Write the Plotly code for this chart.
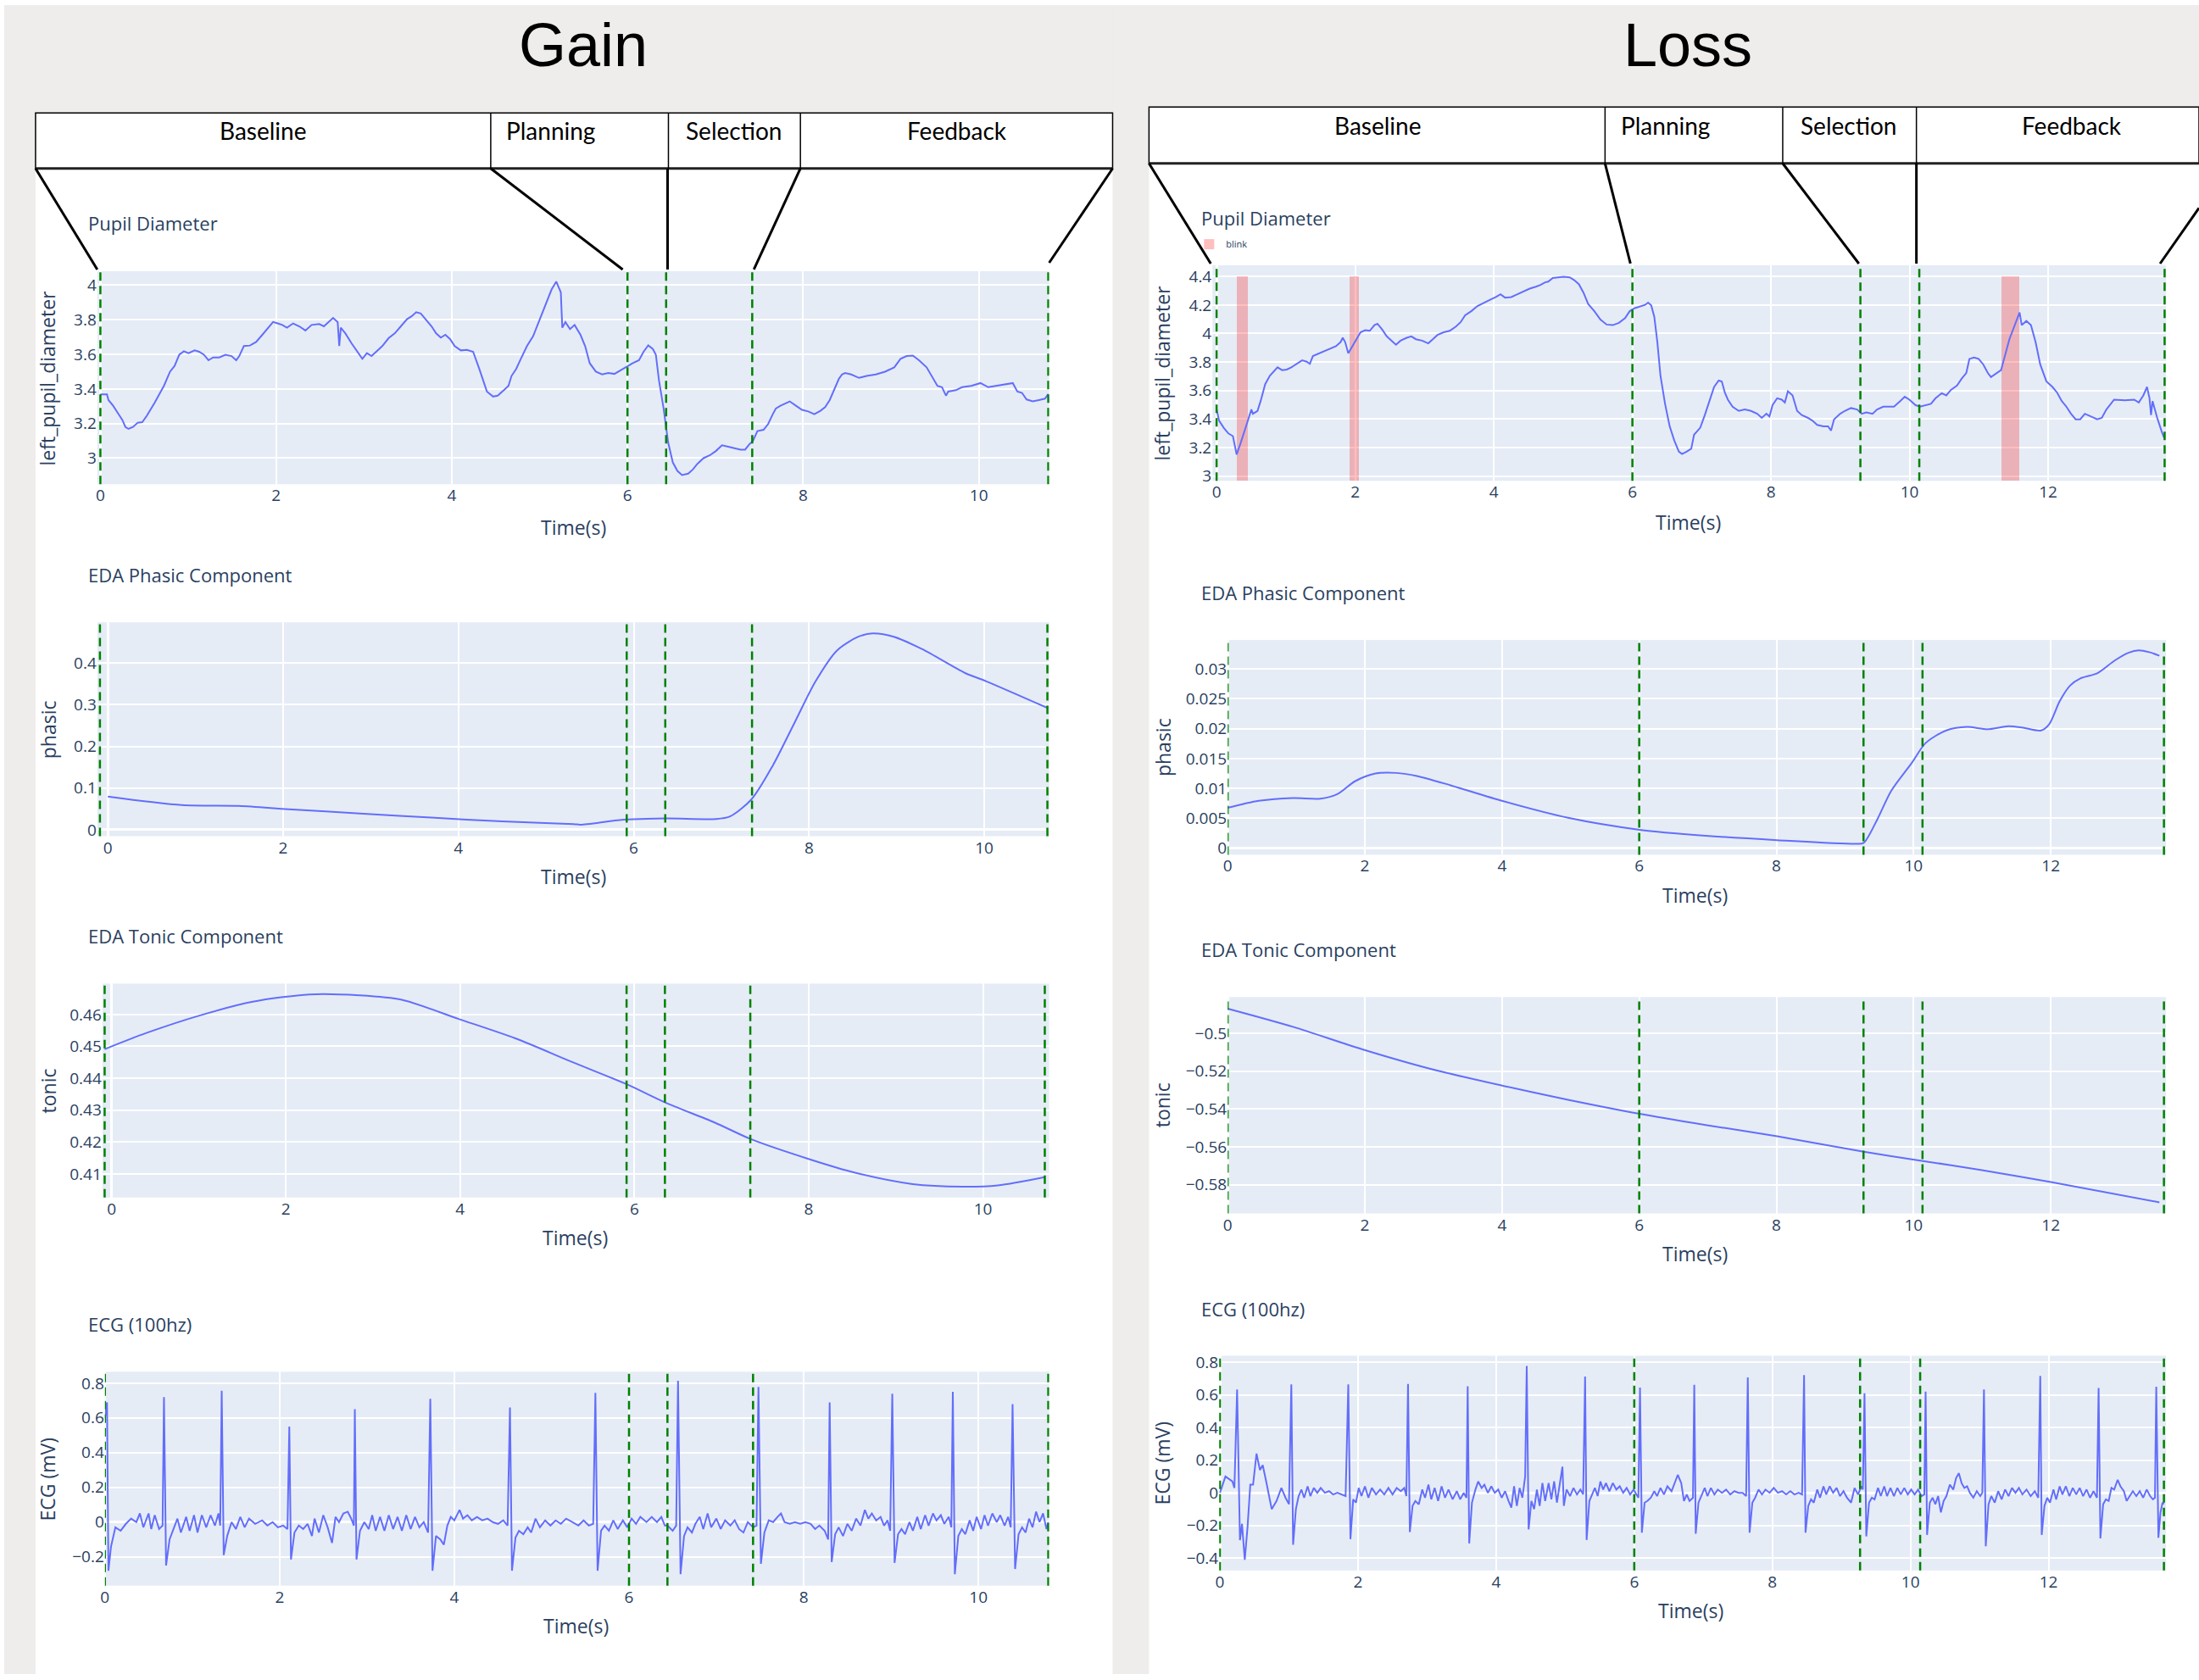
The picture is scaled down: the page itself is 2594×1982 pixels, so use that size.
import plotly.graph_objects as go

W, H = 2594, 1982

# ---------------- text ----------------
phase_names = ["Baseline", "Planning", "Selection", "Feedback"]
column_titles = ["Gain", "Loss"]
panel_titles = ["Pupil Diameter", "EDA Phasic Component", "EDA Tonic Component", "ECG (100hz)"]
y_titles = ["left_pupil_diameter", "phasic", "tonic", "ECG (mV)"]
x_title = "Time(s)"

# ---------------- phase boundary markers (s) ----------------
gain_marks_pupil = [0.0, 6.0, 6.44, 7.42, 10.79]
gain_marks_phasic = [-0.09, 5.92, 6.36, 7.35, 10.72]
gain_marks_tonic = [-0.08, 5.91, 6.35, 7.33, 10.71]
gain_marks_ecg = [0.0, 6.0, 6.44, 7.42, 10.8]
loss_marks_pupil = [0.0, 6.0, 9.29, 10.14, 13.68]
loss_marks_eda = [0.0, 6.0, 9.27, 10.13, 13.65]
loss_marks_ecg = [0.0, 6.0, 9.27, 10.14, 13.67]

# ---------------- blink intervals (loss trial) ----------------
blink_start = [0.30, 1.92, 11.33]
blink_end = [0.45, 2.06, 11.58]
blink_lo = 2.97
blink_hi = 4.40

# ---------------- Gain: pupil ----------------
gain_pupil = [
    (0.00, 3.369), (0.075, 3.369), (0.092, 3.336), (0.145, 3.303), (0.197, 3.262), (0.250, 3.221),
    (0.285, 3.180), (0.320, 3.169), (0.372, 3.180), (0.425, 3.205), (0.477, 3.208), (0.530, 3.246),
    (0.617, 3.320), (0.723, 3.418), (0.793, 3.500), (0.845, 3.533), (0.898, 3.598), (0.950, 3.618),
    (1.003, 3.607), (1.073, 3.623), (1.125, 3.615), (1.178, 3.598), (1.230, 3.566), (1.283, 3.582),
    (1.353, 3.582), (1.423, 3.598), (1.493, 3.590), (1.546, 3.566), (1.581, 3.590), (1.633, 3.648),
    (1.703, 3.651), (1.773, 3.672), (1.843, 3.713), (1.913, 3.754), (1.966, 3.787), (2.018, 3.779),
    (2.071, 3.770), (2.124, 3.754), (2.194, 3.779), (2.264, 3.762), (2.334, 3.738), (2.404, 3.770),
    (2.491, 3.775), (2.544, 3.762), (2.596, 3.787), (2.649, 3.811), (2.701, 3.787), (2.719, 3.648),
    (2.737, 3.754), (2.789, 3.721), (2.859, 3.664), (2.929, 3.615), (2.982, 3.574), (3.034, 3.607),
    (3.087, 3.590), (3.139, 3.615), (3.209, 3.648), (3.280, 3.693), (3.350, 3.721), (3.420, 3.762),
    (3.490, 3.803), (3.542, 3.820), (3.595, 3.844), (3.647, 3.836), (3.700, 3.803), (3.770, 3.762),
    (3.822, 3.721), (3.875, 3.697), (3.927, 3.713), (3.980, 3.689), (4.033, 3.648), (4.103, 3.623),
    (4.173, 3.626), (4.243, 3.615), (4.313, 3.516), (4.400, 3.385), (4.470, 3.356), (4.523, 3.361),
    (4.593, 3.393), (4.645, 3.418), (4.680, 3.475), (4.733, 3.516), (4.786, 3.574), (4.856, 3.648),
    (4.926, 3.705), (5.031, 3.844), (5.136, 3.975), (5.189, 4.021), (5.223, 3.975), (5.241, 3.959),
    (5.258, 3.754), (5.293, 3.787), (5.346, 3.746), (5.398, 3.770), (5.465, 3.713), (5.518, 3.648),
    (5.570, 3.549), (5.640, 3.500), (5.711, 3.484), (5.781, 3.492), (5.851, 3.487), (5.921, 3.508),
    (5.991, 3.525), (6.061, 3.549), (6.131, 3.566), (6.183, 3.615), (6.236, 3.652), (6.289, 3.631),
    (6.323, 3.598), (6.358, 3.451), (6.411, 3.287), (6.463, 3.090), (6.516, 2.975), (6.568, 2.926),
    (6.621, 2.902), (6.691, 2.910), (6.744, 2.934), (6.796, 2.967), (6.866, 3.000), (6.936, 3.016),
    (7.006, 3.041), (7.076, 3.074), (7.146, 3.066), (7.216, 3.057), (7.286, 3.049), (7.339, 3.049),
    (7.391, 3.082), (7.427, 3.098), (7.479, 3.156), (7.549, 3.164), (7.601, 3.197), (7.654, 3.254),
    (7.689, 3.287), (7.742, 3.303), (7.812, 3.320), (7.847, 3.328), (7.917, 3.303), (7.987, 3.279),
    (8.057, 3.270), (8.127, 3.254), (8.197, 3.274), (8.250, 3.295), (8.302, 3.336), (8.355, 3.402),
    (8.407, 3.459), (8.442, 3.484), (8.477, 3.492), (8.547, 3.484), (8.635, 3.464), (8.722, 3.475),
    (8.827, 3.484), (8.932, 3.500), (9.037, 3.525), (9.108, 3.574), (9.178, 3.590), (9.248, 3.593),
    (9.318, 3.566), (9.405, 3.525), (9.475, 3.467), (9.528, 3.418), (9.580, 3.410), (9.626, 3.361),
    (9.651, 3.385), (9.738, 3.393), (9.808, 3.410), (9.913, 3.418), (10.018, 3.434), (10.106, 3.410),
    (10.193, 3.418), (10.298, 3.426), (10.386, 3.434), (10.438, 3.385), (10.491, 3.377), (10.543, 3.339),
    (10.613, 3.328), (10.683, 3.336), (10.753, 3.344), (10.788, 3.369), (10.799, 3.320),
]

# ---------------- Gain: EDA ----------------
gain_phasic_t = [0.0, 0.845, 1.495, 2.063, 2.876, 3.688, 4.500, 5.313, 5.394, 5.881, 6.369, 6.937,
                 7.100, 7.344, 7.587, 7.831, 8.075, 8.319, 8.562, 8.725, 8.968, 9.293, 9.781, 10.024, 10.723]
gain_phasic_v = [0.0795, 0.059, 0.057, 0.049, 0.039, 0.029, 0.020, 0.0135, 0.012, 0.024, 0.027, 0.0256,
                 0.032, 0.073, 0.154, 0.255, 0.356, 0.43, 0.463, 0.471, 0.463, 0.433, 0.376, 0.356, 0.292]

gain_tonic_t = [-0.081, 0.399, 1.050, 1.621, 2.272, 2.842, 3.331, 3.982, 4.634, 5.285, 5.912, 6.352,
                6.914, 7.337, 7.997, 8.542, 9.194, 9.764, 10.171, 10.708]
gain_tonic_v = [0.4491, 0.4542, 0.4600, 0.4640, 0.4663, 0.4660, 0.4646, 0.4586, 0.4525, 0.4451, 0.4381,
                0.4324, 0.4262, 0.4209, 0.4147, 0.4103, 0.4068, 0.4060, 0.4064, 0.4090]

# ---------------- Gain: ECG ----------------
gain_ecg = [
    (0.0, 0.60), (0.024, 0.69), (0.04, -0.28), (0.07, -0.14), (0.12, -0.03), (0.18, -0.05), (0.24, -0.01),
    (0.30, 0.02), (0.36, 0.00), (0.40, 0.05), (0.44, -0.03), (0.50, 0.05), (0.53, -0.04), (0.57, 0.04),
    (0.62, -0.04), (0.66, -0.02),
    (0.676, 0.72), (0.70, -0.25), (0.74, -0.10), (0.78, -0.05), (0.83, 0.02), (0.87, -0.06), (0.93, 0.03),
    (0.97, -0.05), (1.02, 0.04), (1.06, -0.06), (1.11, 0.04), (1.16, -0.03), (1.21, 0.04), (1.26, -0.02),
    (1.30, 0.05), (1.32, -0.02),
    (1.337, 0.756), (1.36, -0.19), (1.40, -0.08), (1.45, 0.00), (1.50, -0.04), (1.55, 0.03), (1.60, -0.03),
    (1.65, 0.02), (1.72, -0.01), (1.80, 0.01), (1.86, -0.02), (1.92, 0.00), (1.98, -0.03), (2.04, -0.02),
    (2.09, -0.04),
    (2.111, 0.55), (2.13, -0.215), (2.17, -0.06), (2.22, -0.02), (2.27, -0.04), (2.32, -0.01), (2.37, -0.08),
    (2.40, 0.02), (2.45, -0.06), (2.50, 0.04), (2.55, -0.03), (2.60, -0.12), (2.64, 0.03), (2.68, 0.00),
    (2.73, 0.05), (2.78, 0.06), (2.82, 0.02), (2.85, -0.02),
    (2.861, 0.65), (2.88, -0.215), (2.92, -0.05), (2.97, 0.00), (3.02, -0.04), (3.06, 0.04), (3.10, -0.05),
    (3.15, 0.03), (3.20, -0.05), (3.25, 0.04), (3.30, -0.04), (3.35, 0.03), (3.40, -0.05), (3.45, 0.04),
    (3.50, -0.04), (3.55, 0.03), (3.60, -0.03), (3.65, 0.00), (3.70, -0.06),
    (3.725, 0.71), (3.75, -0.28), (3.79, -0.08), (3.84, -0.10), (3.88, -0.13), (3.92, -0.02), (3.96, 0.03),
    (4.00, 0.01), (4.06, 0.07), (4.10, 0.02), (4.15, 0.04), (4.20, 0.01), (4.26, 0.03), (4.32, 0.01),
    (4.38, 0.02), (4.44, 0.00), (4.50, -0.01), (4.56, 0.01), (4.61, -0.02),
    (4.637, 0.66), (4.66, -0.28), (4.70, -0.09), (4.74, -0.05), (4.79, -0.07), (4.84, -0.03), (4.88, -0.06),
    (4.93, 0.02), (4.98, -0.03), (5.04, 0.01), (5.10, -0.02), (5.16, 0.01), (5.22, -0.01), (5.28, 0.02),
    (5.35, 0.00), (5.42, -0.02), (5.48, 0.01), (5.54, -0.02), (5.59, -0.01),
    (5.615, 0.744), (5.64, -0.28), (5.68, -0.05), (5.72, -0.02), (5.77, -0.05), (5.82, 0.01), (5.87, -0.04),
    (5.93, 0.01), (5.98, -0.03), (6.03, 0.02), (6.08, -0.01), (6.13, 0.03), (6.20, 0.00), (6.26, 0.03),
    (6.32, 0.00), (6.37, 0.03), (6.41, -0.02), (6.44, -0.02), (6.50, -0.05), (6.54, -0.02),
    (6.561, 0.814), (6.59, -0.30), (6.63, -0.08), (6.67, -0.03), (6.72, -0.06), (6.76, -0.01), (6.81, 0.03),
    (6.85, -0.04), (6.90, 0.05), (6.94, -0.03), (7.00, 0.02), (7.05, -0.04), (7.10, 0.01), (7.16, -0.02),
    (7.21, 0.01), (7.26, -0.04), (7.31, -0.06), (7.36, 0.00), (7.42, -0.03), (7.46, -0.02),
    (7.482, 0.778), (7.51, -0.24), (7.55, -0.06), (7.60, 0.01), (7.65, 0.00), (7.70, 0.03), (7.74, 0.05),
    (7.78, 0.00), (7.84, -0.01), (7.90, 0.00), (7.96, -0.01), (8.02, 0.00), (8.08, -0.01), (8.13, -0.04),
    (8.18, -0.02), (8.24, -0.05), (8.28, -0.10),
    (8.297, 0.69), (8.32, -0.23), (8.36, -0.07), (8.40, -0.03), (8.45, -0.08), (8.50, -0.01), (8.55, -0.05),
    (8.60, 0.02), (8.65, -0.02), (8.70, 0.07), (8.74, 0.02), (8.78, 0.05), (8.83, 0.01), (8.88, 0.03),
    (8.92, -0.02), (8.96, 0.01), (8.99, -0.05),
    (9.014, 0.74), (9.04, -0.235), (9.08, -0.07), (9.12, -0.04), (9.16, -0.07), (9.21, 0.00), (9.25, -0.05),
    (9.30, 0.03), (9.34, -0.04), (9.39, 0.04), (9.43, -0.02), (9.48, 0.05), (9.52, 0.01), (9.57, 0.04),
    (9.61, -0.01), (9.66, 0.03), (9.69, -0.03),
    (9.707, 0.75), (9.73, -0.30), (9.77, -0.08), (9.81, -0.04), (9.85, -0.07), (9.90, 0.01), (9.94, -0.05),
    (9.98, 0.03), (10.03, -0.04), (10.07, 0.04), (10.11, -0.02), (10.16, 0.05), (10.21, 0.00), (10.25, 0.04),
    (10.30, -0.02), (10.34, 0.03), (10.37, -0.03),
    (10.391, 0.68), (10.42, -0.27), (10.46, -0.07), (10.50, -0.03), (10.54, -0.06), (10.58, 0.02),
    (10.62, -0.03), (10.66, 0.06), (10.70, 0.00), (10.74, 0.05), (10.78, -0.04), (10.80, 0.00),
]

# ---------------- Loss: pupil ----------------
loss_pupil = [
    (0.000, 3.467), (0.036, 3.388), (0.102, 3.339), (0.169, 3.299), (0.235, 3.280), (0.257, 3.230),
    (0.289, 3.151), (0.346, 3.230), (0.413, 3.329), (0.479, 3.428), (0.502, 3.467), (0.524, 3.437),
    (0.590, 3.457), (0.635, 3.526), (0.701, 3.645), (0.768, 3.704), (0.834, 3.743), (0.879, 3.763),
    (0.945, 3.743), (1.012, 3.747), (1.079, 3.763), (1.145, 3.783), (1.234, 3.812), (1.300, 3.802),
    (1.345, 3.787), (1.389, 3.842), (1.456, 3.856), (1.545, 3.871), (1.633, 3.891), (1.722, 3.911),
    (1.789, 3.940), (1.820, 3.970), (1.855, 3.940), (1.900, 3.862), (2.077, 4.009), (2.144, 4.023),
    (2.210, 4.019), (2.277, 4.059), (2.321, 4.069), (2.388, 4.029), (2.455, 3.980), (2.521, 3.950),
    (2.588, 3.921), (2.654, 3.950), (2.743, 3.970), (2.810, 3.980), (2.876, 3.960), (2.965, 3.950),
    (3.054, 3.931), (3.120, 3.960), (3.187, 3.990), (3.276, 4.009), (3.364, 4.019), (3.453, 4.049),
    (3.520, 4.079), (3.586, 4.128), (3.675, 4.157), (3.764, 4.193), (3.853, 4.217), (3.941, 4.236),
    (4.030, 4.256), (4.097, 4.276), (4.163, 4.252), (4.252, 4.256), (4.341, 4.276), (4.430, 4.295),
    (4.518, 4.315), (4.607, 4.329), (4.674, 4.341), (4.740, 4.359), (4.785, 4.364), (4.851, 4.390),
    (4.918, 4.394), (5.007, 4.398), (5.095, 4.394), (5.162, 4.374), (5.229, 4.345), (5.295, 4.286),
    (5.362, 4.207), (5.451, 4.157), (5.539, 4.098), (5.628, 4.063), (5.717, 4.059), (5.806, 4.075),
    (5.894, 4.108), (5.961, 4.157), (6.028, 4.177), (6.116, 4.193), (6.183, 4.201), (6.227, 4.217),
    (6.272, 4.197), (6.316, 4.118), (6.360, 3.940), (6.405, 3.704), (6.471, 3.507), (6.538, 3.349),
    (6.604, 3.250), (6.671, 3.171), (6.716, 3.155), (6.782, 3.171), (6.849, 3.191), (6.890, 3.290),
    (6.979, 3.339), (7.045, 3.428), (7.112, 3.526), (7.179, 3.625), (7.245, 3.670), (7.290, 3.664),
    (7.334, 3.585), (7.378, 3.536), (7.445, 3.487), (7.534, 3.457), (7.623, 3.467), (7.711, 3.457),
    (7.800, 3.437), (7.867, 3.408), (7.934, 3.437), (7.978, 3.418), (8.022, 3.497), (8.089, 3.546),
    (8.155, 3.536), (8.200, 3.516), (8.244, 3.595), (8.311, 3.566), (8.377, 3.457), (8.444, 3.428),
    (8.533, 3.408), (8.599, 3.388), (8.666, 3.359), (8.755, 3.349), (8.822, 3.349), (8.866, 3.319),
    (8.910, 3.398), (8.999, 3.437), (9.065, 3.457), (9.154, 3.477), (9.243, 3.467), (9.309, 3.437),
    (9.376, 3.447), (9.465, 3.437), (9.531, 3.467), (9.620, 3.487), (9.709, 3.487), (9.775, 3.487),
    (9.864, 3.526), (9.930, 3.556), (9.997, 3.536), (10.086, 3.497), (10.152, 3.487), (10.219, 3.497),
    (10.308, 3.507), (10.375, 3.546), (10.463, 3.581), (10.530, 3.566), (10.597, 3.605), (10.685, 3.635),
    (10.752, 3.684), (10.818, 3.723), (10.863, 3.822), (10.930, 3.832), (10.996, 3.822), (11.063, 3.783),
    (11.129, 3.723), (11.174, 3.694), (11.240, 3.714), (11.320, 3.743), (11.440, 3.960), (11.587, 4.148),
    (11.618, 4.059), (11.685, 4.088), (11.751, 4.059), (11.818, 3.940), (11.885, 3.783), (11.974, 3.664),
    (12.062, 3.625), (12.129, 3.585), (12.196, 3.526), (12.262, 3.487), (12.329, 3.437), (12.396, 3.398),
    (12.462, 3.398), (12.529, 3.437), (12.618, 3.418), (12.707, 3.398), (12.774, 3.408), (12.840, 3.467),
    (12.951, 3.536), (13.107, 3.532), (13.240, 3.536), (13.307, 3.516), (13.373, 3.566), (13.426, 3.625),
    (13.462, 3.546), (13.484, 3.428), (13.506, 3.526), (13.573, 3.408), (13.640, 3.309), (13.671, 3.270),
]

# ---------------- Loss: EDA ----------------
loss_phasic_t = [0.0, 0.451, 0.952, 1.353, 1.604, 1.855, 2.155, 2.456, 2.757, 3.258, 4.010, 4.962,
                 6.005, 6.967, 8.010, 9.173, 9.273, 9.474, 9.674, 9.975, 10.175, 10.476, 10.777,
                 11.078, 11.378, 11.579, 11.860, 11.980, 12.130, 12.281, 12.431, 12.682, 12.932,
                 13.133, 13.283, 13.434, 13.584]
loss_phasic_v = [0.00676, 0.00793, 0.0084, 0.0083, 0.0091, 0.0112, 0.0125, 0.0126, 0.0121, 0.0105,
                 0.0079, 0.0051, 0.0031, 0.0021, 0.00136, 0.00075, 0.0009, 0.0049, 0.0096, 0.0143,
                 0.0176, 0.0197, 0.0203, 0.0199, 0.0204, 0.0202, 0.0197, 0.0208, 0.0246, 0.0272,
                 0.0284, 0.0293, 0.0314, 0.0327, 0.0331, 0.0328, 0.0322]

loss_tonic_t = [0.0, 0.952, 1.955, 2.957, 4.010, 4.962, 6.005, 6.967, 8.010, 9.273, 10.135, 10.977,
                12.000, 13.584]
loss_tonic_v = [-0.4870, -0.4966, -0.5084, -0.5188, -0.5277, -0.5351, -0.5425, -0.5484, -0.5544,
                -0.5625, -0.5674, -0.5721, -0.5785, -0.5892]

# ---------------- Loss: ECG ----------------
loss_ecg = [
    (0.0, 0.00), (0.08, 0.10), (0.18, 0.07), (0.21, 0.03),
    (0.249, 0.633), (0.29, -0.29), (0.32, -0.19), (0.36, -0.41), (0.40, -0.21), (0.44, 0.05), (0.48, 0.05),
    (0.53, 0.24), (0.58, 0.14), (0.62, 0.17), (0.67, 0.07), (0.75, -0.10), (0.82, -0.05), (0.89, 0.03),
    (0.95, -0.03), (1.00, -0.07),
    (1.034, 0.664), (1.06, -0.318), (1.10, -0.10), (1.14, -0.02), (1.18, 0.02), (1.22, -0.03), (1.27, 0.04),
    (1.31, -0.02), (1.36, 0.03), (1.41, 0.00), (1.46, 0.03), (1.52, 0.00), (1.58, 0.01), (1.64, -0.01),
    (1.70, 0.00), (1.76, -0.01), (1.82, -0.02),
    (1.859, 0.664), (1.89, -0.284), (1.93, -0.04), (1.97, -0.06), (2.01, 0.03), (2.05, -0.02), (2.10, 0.04),
    (2.15, -0.03), (2.20, 0.03), (2.26, -0.01), (2.32, 0.02), (2.38, -0.01), (2.44, 0.03), (2.50, -0.01),
    (2.56, 0.03), (2.62, 0.01), (2.67, 0.03), (2.70, -0.02),
    (2.724, 0.667), (2.75, -0.24), (2.79, -0.08), (2.83, -0.05), (2.88, -0.07), (2.93, 0.02), (2.97, -0.03),
    (3.02, 0.05), (3.06, -0.04), (3.11, 0.03), (3.16, -0.05), (3.21, 0.04), (3.26, -0.03), (3.31, 0.02),
    (3.37, -0.04), (3.43, 0.01), (3.48, -0.04), (3.53, 0.00), (3.57, -0.03),
    (3.588, 0.653), (3.61, -0.31), (3.65, -0.06), (3.70, 0.02), (3.74, 0.07), (3.79, 0.03), (3.83, 0.05),
    (3.88, 0.00), (3.93, 0.04), (3.98, 0.00), (4.03, 0.02), (4.08, -0.03), (4.13, 0.01), (4.18, -0.05),
    (4.22, -0.09), (4.26, 0.04), (4.30, -0.08), (4.34, 0.03), (4.38, -0.03), (4.42, 0.10),
    (4.443, 0.777), (4.47, -0.224), (4.51, -0.05), (4.55, -0.10), (4.59, 0.02), (4.63, -0.08), (4.67, 0.06),
    (4.71, -0.05), (4.76, 0.06), (4.80, -0.04), (4.84, 0.07), (4.88, -0.06), (4.92, 0.04), (4.96, 0.16),
    (4.98, -0.08), (5.02, 0.02), (5.07, -0.02), (5.12, 0.03), (5.17, -0.01), (5.22, 0.02), (5.26, -0.01),
    (5.288, 0.712), (5.31, -0.289), (5.35, -0.05), (5.39, -0.01), (5.43, 0.03), (5.47, -0.02), (5.51, 0.07),
    (5.55, 0.02), (5.59, 0.06), (5.64, 0.01), (5.69, 0.06), (5.74, 0.02), (5.79, 0.04), (5.84, 0.00),
    (5.89, 0.03), (5.94, -0.01), (5.99, 0.02), (6.03, -0.01), (6.06, -0.03),
    (6.083, 0.645), (6.11, -0.244), (6.15, -0.06), (6.19, -0.05), (6.24, -0.03), (6.29, 0.01), (6.33, -0.02),
    (6.38, 0.03), (6.43, -0.01), (6.48, 0.04), (6.54, 0.01), (6.59, 0.07), (6.63, 0.11), (6.68, 0.06),
    (6.72, -0.05), (6.76, -0.01), (6.80, -0.05), (6.85, -0.03),
    (6.869, 0.662), (6.89, -0.251), (6.93, -0.06), (6.97, -0.02), (7.02, 0.03), (7.06, -0.02), (7.11, 0.03),
    (7.16, -0.01), (7.21, 0.02), (7.27, 0.00), (7.33, 0.02), (7.39, -0.01), (7.45, 0.01), (7.51, 0.00),
    (7.57, 0.00), (7.62, -0.02),
    (7.644, 0.708), (7.67, -0.244), (7.71, -0.06), (7.75, -0.03), (7.80, 0.02), (7.85, -0.01), (7.90, 0.02),
    (7.96, 0.00), (8.02, 0.03), (8.08, 0.00), (8.14, 0.01), (8.20, -0.01), (8.26, 0.01), (8.32, -0.01),
    (8.38, 0.00), (8.43, -0.01),
    (8.459, 0.722), (8.48, -0.244), (8.52, -0.08), (8.56, -0.04), (8.60, -0.06), (8.65, 0.02), (8.69, -0.03),
    (8.74, 0.04), (8.78, -0.01), (8.83, 0.04), (8.88, 0.00), (8.93, 0.03), (8.98, -0.02), (9.03, 0.01),
    (9.08, -0.03), (9.14, -0.06), (9.19, 0.03), (9.24, -0.01), (9.29, 0.04), (9.31, 0.02),
    (9.334, 0.61), (9.36, -0.267), (9.40, -0.06), (9.44, -0.03), (9.48, -0.04), (9.53, 0.03), (9.57, -0.02),
    (9.62, 0.04), (9.66, -0.02), (9.71, 0.03), (9.76, -0.02), (9.81, 0.03), (9.86, -0.01), (9.91, 0.03),
    (9.96, -0.01), (10.01, 0.02), (10.06, -0.01), (10.11, 0.02), (10.16, -0.02), (10.20, -0.01),
    (10.219, 0.62), (10.24, -0.258), (10.28, -0.06), (10.32, -0.03), (10.36, -0.07), (10.40, -0.02),
    (10.44, -0.12), (10.48, -0.05), (10.52, -0.02), (10.57, 0.05), (10.62, 0.02), (10.66, 0.09),
    (10.70, 0.12), (10.74, 0.06), (10.78, 0.03), (10.82, 0.04), (10.86, 0.00), (10.91, -0.03),
    (10.96, 0.01), (11.01, -0.02), (11.04, 0.00),
    (11.064, 0.633), (11.09, -0.327), (11.13, -0.07), (11.17, -0.02), (11.22, -0.06), (11.27, 0.01),
    (11.32, -0.04), (11.37, 0.02), (11.42, -0.02), (11.47, 0.03), (11.52, 0.00), (11.57, 0.03),
    (11.62, -0.01), (11.68, 0.02), (11.74, -0.02), (11.80, 0.01), (11.85, -0.03),
    (11.879, 0.717), (11.90, -0.258), (11.94, -0.08), (11.98, -0.03), (12.02, -0.06), (12.07, 0.02),
    (12.11, -0.04), (12.16, 0.04), (12.20, -0.01), (12.25, 0.04), (12.30, -0.02), (12.35, 0.03),
    (12.40, -0.01), (12.45, 0.03), (12.50, -0.02), (12.55, 0.02), (12.60, -0.03), (12.65, 0.01), (12.70, -0.03),
    (12.724, 0.643), (12.75, -0.279), (12.79, -0.07), (12.83, -0.04), (12.87, -0.05), (12.91, 0.03),
    (12.95, 0.02), (13.00, 0.08), (13.04, 0.04), (13.09, 0.01), (13.13, -0.05), (13.17, -0.02), (13.22, 0.01),
    (13.27, -0.02), (13.32, 0.01), (13.37, -0.03), (13.42, 0.02), (13.47, -0.02), (13.51, -0.04), (13.54, -0.03),
    (13.559, 0.65), (13.59, -0.275), (13.62, -0.12), (13.65, -0.06), (13.67, -0.07),
]

# =====================================================================
# Layout (pixel boxes of each plot area in the 2594x1982 canvas)
# =====================================================================
BG_GRAY = "#EEEDEB"
LINE_BLUE = "#636EFA"
TXT = "#2a3f5f"
FONT = "Open Sans, Arial, sans-serif"


def fx(px):
    return px / W


def fy(py):
    return 1 - py / H


def unzip(pairs):
    return [p[0] for p in pairs], [p[1] for p in pairs]


gp_t, gp_v = unzip(gain_pupil)
ge_t, ge_v = unzip(gain_ecg)
lp_t, lp_v = unzip(loss_pupil)
le_t, le_v = unzip(loss_ecg)

panels = [
    # gain column
    dict(t=gp_t, v=gp_v, box=(110, 1235, 316, 569), xr=(-0.035, 10.80), yr=(2.849, 4.081), dy=0.2,
         marks=gain_marks_pupil, title=(97, 259), ytl=51, xtl=(673, 620), k=0, smooth=False),
    dict(t=gain_phasic_t, v=gain_phasic_v, box=(110, 1235, 733, 987), xr=(-0.12, 10.74), yr=(-0.0156, 0.4976),
         dy=0.1, marks=gain_marks_phasic, title=(97, 676), ytl=52, xtl=(673, 1035), k=1, smooth=True),
    dict(t=gain_tonic_t, v=gain_tonic_v, box=(116, 1235, 1162, 1416), xr=(-0.106, 10.76), yr=(0.4026, 0.4697),
         dy=0.01, marks=gain_marks_tonic, title=(97, 1105), ytl=52, xtl=(675, 1464), k=2, smooth=True),
    dict(t=ge_t, v=ge_v, box=(119, 1235, 1623, 1877), xr=(0.0, 10.81), yr=(-0.366, 0.866), dy=0.2,
         marks=gain_marks_ecg, title=(97, 1566), ytl=51, xtl=(676, 1925), k=3, smooth=False),
    # loss column
    dict(t=lp_t, v=lp_v, box=(1428, 2555, 309, 565), xr=(-0.06, 13.70), yr=(2.966, 4.479), dy=0.2,
         marks=loss_marks_pupil, title=(1413, 253), ytl=1369, xtl=(1990, 614), k=0, smooth=False),
    dict(t=loss_phasic_t, v=loss_phasic_v, box=(1446, 2555, 754, 1009), xr=(0.0, 13.68), yr=(-0.00108, 0.03483),
         dy=0.005, marks=loss_marks_eda, title=(1413, 698), ytl=1369, xtl=(1998, 1057), k=1, smooth=True),
    dict(t=loss_tonic_t, v=loss_tonic_v, box=(1446, 2555, 1178, 1435), xr=(0.0, 13.68), yr=(-0.5951, -0.4809),
         dy=0.02, marks=loss_marks_eda, title=(1413, 1121), ytl=1369, xtl=(1998, 1483), k=2, smooth=True),
    dict(t=le_t, v=le_v, box=(1436, 2555, 1604, 1859), xr=(-0.01, 13.70), yr=(-0.476, 0.840), dy=0.2,
         marks=loss_marks_ecg, title=(1413, 1548), ytl=1369, xtl=(1993, 1907), k=3, smooth=False),
]

fig = go.Figure()
shapes = []
annotations = []
layout_axes = {}

# ---- background: white panels on light gray ----
gray_rects = [(0, 0, W, 121), (0, 0, 1353, 128), (0, 0, 37, H), (1310, 0, 1353, H)]
for (x0, y0, x1, y1) in gray_rects:
    shapes.append(dict(type="rect", xref="paper", yref="paper", x0=fx(x0), x1=fx(x1), y0=fy(y1), y1=fy(y0),
                       fillcolor=BG_GRAY, line=dict(width=0), layer="below"))

# ---- column titles ----
for text, cx in zip(column_titles, [684, 1990]):
    annotations.append(dict(text=text, x=fx(cx), y=fy(47), xref="paper", yref="paper", showarrow=False,
                            xanchor="center", yanchor="middle",
                            font=dict(family="Liberation Sans, Arial, sans-serif", size=72, color="black")))

# ---- phase header boxes ----
headers = [
    dict(x0=37, x1=1310, y0=128, y1=194, divs=[575, 785, 941], labels=[306, 646, 862, 1126], ly=149,
         conn=[((37, 194), (110, 314)), ((575, 194), (731, 314)), ((784, 194), (784, 314)),
               ((941, 194), (886, 314)), ((1310, 194), (1235, 306))]),
    dict(x0=1353, x1=2594, y0=121, y1=188, divs=[1892, 2102, 2260], labels=[1623, 1963, 2180, 2444], ly=143,
         conn=[((1353, 188), (1426, 307)), ((1892, 188), (1922, 307)), ((2102, 188), (2192, 307)),
               ((2260, 188), (2260, 307)), ((2594, 241), (2548, 307))]),
]
for hd in headers:
    shapes.append(dict(type="rect", xref="paper", yref="paper", x0=fx(hd["x0"]), x1=fx(hd["x1"]),
                       y0=fy(hd["y1"]), y1=fy(hd["y0"]), fillcolor="white", line=dict(color="black", width=1.5)))
    shapes.append(dict(type="line", xref="paper", yref="paper", x0=fx(hd["x0"]), x1=fx(hd["x1"]),
                       y0=fy(hd["y1"]), y1=fy(hd["y1"]), line=dict(color="#222", width=3)))
    for dx in hd["divs"]:
        shapes.append(dict(type="line", xref="paper", yref="paper", x0=fx(dx), x1=fx(dx),
                           y0=fy(hd["y1"]), y1=fy(hd["y0"]), line=dict(color="black", width=1.5)))
    for name, lx in zip(phase_names, hd["labels"]):
        annotations.append(dict(text=name, x=fx(lx), y=fy(hd["ly"]), xref="paper", yref="paper",
                                showarrow=False, xanchor="center", yanchor="middle",
                                font=dict(family="Lato, Carlito, Calibri, sans-serif", size=28, color="black")))
    for (p0, p1) in hd["conn"]:
        shapes.append(dict(type="line", xref="paper", yref="paper", x0=fx(p0[0]), y0=fy(p0[1]),
                           x1=fx(p1[0]), y1=fy(p1[1]), line=dict(color="black", width=3)))

# ---- subplots ----
for i, p in enumerate(panels, start=1):
    xa = "x" if i == 1 else f"x{i}"
    ya = "y" if i == 1 else f"y{i}"
    x0, x1, y0, y1 = p["box"]
    layout_axes["xaxis" if i == 1 else f"xaxis{i}"] = dict(
        domain=[fx(x0), fx(x1)], anchor=ya, range=list(p["xr"]), dtick=2, tick0=0,
        tickfont=dict(size=19, family=FONT, color=TXT), gridcolor="white", gridwidth=1.5,
        zeroline=True, zerolinecolor="white", zerolinewidth=2.5, showline=False, ticks="")
    layout_axes["yaxis" if i == 1 else f"yaxis{i}"] = dict(
        domain=[fy(y1), fy(y0)], anchor=xa, range=list(p["yr"]), dtick=p["dy"], tick0=0,
        tickfont=dict(size=19, family=FONT, color=TXT), gridcolor="white", gridwidth=1.5,
        zeroline=True, zerolinecolor="white", zerolinewidth=2.5, showline=False, ticks="")

    if i == 5:
        centers = [(s + e) / 2 for s, e in zip(blink_start, blink_end)]
        widths = [e - s for s, e in zip(blink_start, blink_end)]
        fig.add_trace(go.Bar(x=centers, y=[blink_hi - blink_lo] * len(centers), base=blink_lo, width=widths,
                             marker=dict(color="red", line=dict(width=0)), opacity=0.25, name="blink",
                             showlegend=True, xaxis=xa, yaxis=ya))

    line_style = dict(color=LINE_BLUE, width=2)
    if p["smooth"]:
        line_style.update(shape="spline", smoothing=0.8)
    fig.add_trace(go.Scatter(x=p["t"], y=p["v"], mode="lines", line=line_style,
                             showlegend=False, xaxis=xa, yaxis=ya))

    for m in p["marks"]:
        shapes.append(dict(type="line", xref=xa, yref=f"{ya} domain", x0=m, x1=m, y0=0, y1=1,
                           line=dict(color="green", width=2.5, dash="10px,6px")))

    k = p["k"]
    annotations.append(dict(text=panel_titles[k], x=fx(p["title"][0]), y=fy(p["title"][1]), xref="paper",
                            yref="paper", showarrow=False, xanchor="left", yanchor="middle",
                            font=dict(family=FONT, size=22, color=TXT)))
    annotations.append(dict(text=y_titles[k], x=fx(p["ytl"]), y=fy((y0 + y1) / 2), xref="paper",
                            yref="paper", showarrow=False, xanchor="center", yanchor="middle", textangle=-90,
                            font=dict(family=FONT, size=23, color=TXT)))
    annotations.append(dict(text=x_title, x=fx(p["xtl"][0]), y=fy(p["xtl"][1]), xref="paper",
                            yref="paper", showarrow=False, xanchor="center", yanchor="middle",
                            font=dict(family=FONT, size=23, color=TXT)))

fig.update_layout(
    autosize=True,
    margin=dict(l=0, r=0, t=0, b=0, pad=0),
    paper_bgcolor="white", plot_bgcolor="#E5ECF6",
    font=dict(family=FONT, color=TXT),
    shapes=shapes, annotations=annotations,
    showlegend=True,
    legend=dict(x=fx(1404), y=fy(284), xanchor="left", yanchor="middle", bgcolor="rgba(0,0,0,0)",
                font=dict(size=11, color=TXT), borderwidth=0),
    bargap=0,
    **layout_axes,
)

post = ("document.documentElement.style.margin='0';document.body.style.margin='0';"
        "document.body.style.padding='0';document.body.style.background='#EEEDEB';"
        "document.body.style.overflow='hidden';")

# the div is pinned to the top-left corner of the page at exactly the canvas size
fig.write_html("out.html", config={"displayModeBar": False, "responsive": False}, post_script=post,
               default_width=f"{W}px;position:absolute;left:0px;top:0px",
               default_height=f"{H}px")
